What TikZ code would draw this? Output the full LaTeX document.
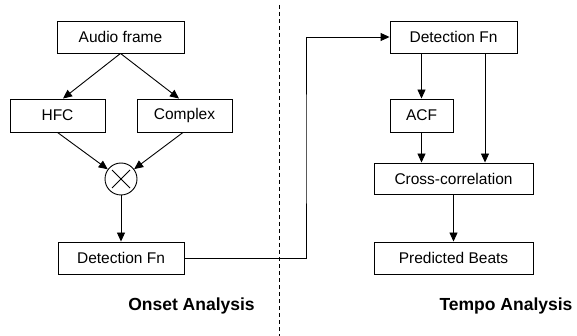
\documentclass[tikz,border=0pt]{standalone}
\usepackage{fontspec}
\setmainfont{Liberation Sans}
\usetikzlibrary{arrows.meta}
\begin{document}
\begin{tikzpicture}[x=1pt,y=-1pt,
  box/.style={draw,line width=0.9pt,inner sep=0pt,font=\fontsize{15.5}{18}\selectfont},
  arr/.style={line width=0.9pt,-{Triangle[length=9pt,width=8pt]}},
  conn/.style={line width=0.9pt},
  title/.style={font=\fontsize{17.5}{20}\selectfont\bfseries},
  mulnode/.style={draw,circle,line width=0.9pt,minimum size=32pt,inner sep=0pt}]
\useasboundingbox (0,0) rectangle (577,336);
% left side
\node[box,minimum width=127pt,minimum height=32pt] (af) at (120.5,37) {Audio frame};
\node[box,minimum width=95pt,minimum height=33pt] (hfc) at (57.5,115.5) {HFC};
\node[box,minimum width=95pt,minimum height=33pt] (cx) at (184.5,115.5) {Complex};
\node[mulnode] (mul) at (121,179) {};
\draw[conn] ([shift={(-9,-9)}]mul.center) -- ([shift={(9,9)}]mul.center);
\draw[conn] ([shift={(-9,9)}]mul.center) -- ([shift={(9,-9)}]mul.center);
\node[box,minimum width=126pt,minimum height=32pt] (df1) at (121,258) {Detection Fn};
\node[title] (onset) at (191.5,305.5) {Onset Analysis};
% divider
\coordinate (dtop) at (279,5);
\coordinate (dbot) at (279,336);
\draw[line width=0.8pt,dash pattern=on 4pt off 3pt] (dtop) -- (dbot);
% right side
\node[box,minimum width=127pt,minimum height=32pt] (df2) at (453.5,37) {Detection Fn};
\node[box,minimum width=63pt,minimum height=33pt] (acf) at (421.5,115.5) {ACF};
\node[box,minimum width=159pt,minimum height=31pt] (cc) at (453.5,178.5) {Cross-correlation};
\node[box,minimum width=159pt,minimum height=32pt] (pb) at (453.5,258) {Predicted Beats};
\node[title] (tempo) at (506,305.5) {Tempo Analysis};
% connectors
\draw[arr] (af.south) -- ([xshift=5.5pt]hfc.north);
\draw[arr] (af.south) -- ([xshift=-5.5pt]cx.north);
\draw[arr] (hfc.south) -- (mul);
\draw[arr] ([xshift=-1.5pt]cx.south) -- (mul);
\draw[arr] (mul) -- (df1);
\coordinate (k) at (306,150);
\draw[arr] (df1.east) -| (k) |- (df2.west);
\draw[arr] (acf.north |- df2.south) -- (acf.north);
\draw[arr] ([xshift=31.5pt]df2.south) -- ([xshift=31.5pt]cc.north);
\draw[arr] (acf.south) -- (acf.south |- cc.north);
\draw[arr] (cc) -- (pb);
\end{tikzpicture}
\end{document}
